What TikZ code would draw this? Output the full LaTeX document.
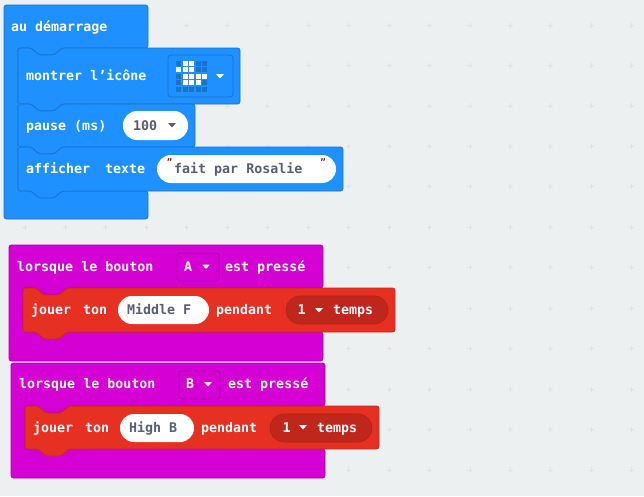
\documentclass[tikz,border=0pt]{standalone}
\usepackage{fontspec}
\setmainfont{DejaVu Sans Mono}[BoldFont={DejaVu Sans Mono Bold}]
\usetikzlibrary{positioning}
\definecolor{fondgris}{HTML}{ECF0F1}
\definecolor{grille}{HTML}{DDE3E5}
\definecolor{bleu}{HTML}{1E90FF}
\definecolor{bleufonce}{HTML}{1873CC}
\definecolor{mauve}{HTML}{D400D4}
\definecolor{mauvefonce}{HTML}{AA00AA}
\definecolor{rouge}{HTML}{E63022}
\definecolor{rougefonce}{HTML}{C0271C}
\definecolor{ardoise}{HTML}{575E75}
\tikzset{
	x=1pt, y=-1pt,
	etiquette/.style={text=white, font=\bfseries\fontsize{13.3}{16}\selectfont, inner sep=0pt, anchor=base west},
	valeur/.style={text=ardoise, font=\bfseries\fontsize{13.3}{16}\selectfont, inner sep=0pt, anchor=base west},
	guillemet/.style={text=red!70!black, font=\bfseries\fontsize{9}{10}\selectfont, inner sep=0pt},
	champ/.style={fill=white, rounded corners=13.9pt},
	pilule/.style={fill=rougefonce, draw=rougefonce!90!black, line width=0.6pt, rounded corners=13.9pt},
	liste/.style={fill=mauve, draw=mauvefonce, line width=0.8pt, rounded corners=3pt},
	plus/.style={grille, line width=0.8pt}
}
% bloc empile : gauche, haut, droite, bas, couleur, contour
\newcommand{\bloc}[6]{
	\draw[fill=#5, draw=#6, line width=0.8pt, rounded corners=2.5pt]
		(#1,#2) -- (#1+13,#2) -- (#1+21,#2+7) -- (#1+36,#2+7) -- (#1+44,#2)
		-- (#3,#2) -- (#3,#4) -- (#1+44,#4) -- (#1+36,#4+7) -- (#1+21,#4+7)
		-- (#1+13,#4) -- (#1,#4) -- cycle;
}
% chapeau avec bras : gauche, haut, droite, bas, haut du bras, bas du bras, couleur, contour
\newcommand{\chapeau}[8]{
	\draw[fill=#7, draw=#8, line width=0.8pt, rounded corners=2.5pt]
		(#1,#2) -- (#3,#2) -- (#3,#5) -- (#1+58,#5) -- (#1+50,#5+7) -- (#1+35,#5+7)
		-- (#1+27,#5) -- (#1+14,#5) -- (#1+14,#6) -- (#3,#6)
		-- (#3,#4) -- (#1,#4) -- cycle;
}
\newcommand{\fleche}[3]{\fill[#3, rounded corners=0.5pt] (#1-4,#2-2) -- (#1+4,#2-2) -- (#1,#2+2.5) -- cycle;}
\begin{document}
\begin{tikzpicture}
	\useasboundingbox (0,0) rectangle (644,496);
	\fill[fondgris] (0,0) rectangle (644,496);
	% grille de fond
	\foreach \i in {0,...,16}
		\foreach \j in {0,...,11} {
			\pgfmathsetmacro{\px}{-15.5+40.45*\i}
			\pgfmathsetmacro{\py}{25+40.45*\j}
			\draw[plus] (\px-2.5,\py) -- (\px+2.5,\py) (\px,\py-2.5) -- (\px,\py+2.5);
		}
	% au demarrage
	\chapeau{4}{5}{148}{219}{48}{191}{bleu}{bleufonce}
	\node[etiquette] (demarrage) at (11,31) {au démarrage};
	\bloc{18}{48}{240}{104}{bleu}{bleufonce}
	\node[etiquette] (icone) at (26,80) {montrer l'icône};
	\draw[bleufonce, line width=0.8pt, rounded corners=3pt] (168,55) rectangle (233,97);
	\foreach \c/\l/\v in {0/0/0,1/0/1,2/0/1,3/0/0,4/0/0,
			0/1/1,1/1/1,2/1/1,3/1/0,4/1/0,
			0/2/0,1/2/1,2/2/1,3/2/1,4/2/1,
			0/3/0,1/3/1,2/3/1,3/3/1,4/3/0,
			0/4/0,1/4/0,2/4/0,3/4/0,4/4/0} {
		\ifnum\v=1
			\fill[white] (176+6.5*\c,60.6+6.5*\l) rectangle +(5,5);
		\else
			\fill[bleufonce] (176+6.5*\c,60.6+6.5*\l) rectangle +(5,5);
		\fi
	}
	\fleche{220}{76}{white}
	\bloc{18}{104}{195}{147}{bleu}{bleufonce}
	\node[etiquette] (pause) at (26,130.5) {pause (ms)};
	\fill[champ] (123,111) rectangle (188,140);
	\node[valeur] (cent) at (133,130.5) {100};
	\fleche{172}{125}{ardoise}
	\bloc{18}{147}{343}{191}{bleu}{bleufonce}
	\node[etiquette] (afficher) at (26,173) {afficher};
	\node[etiquette] (texte) at (105,173) {texte};
	\fill[champ] (157,155) rectangle (336,183);
	\node[valeur] (rosalie) at (174,173) {fait par Rosalie};
	\node[guillemet] (ouvrant) at (169.5,162) {"};
	\node[guillemet] (fermant) at (323,162) {"};
	% bouton A
	\chapeau{9}{245}{323}{361}{288}{332}{mauve}{mauvefonce}
	\node[etiquette] (boutona) at (17,271) {lorsque le bouton};
	\draw[liste] (177,253) rectangle (219,281);
	\node[etiquette] (a) at (184,271) {A};
	\fleche{206}{266.5}{white}
	\node[etiquette] (pressea) at (225,271) {est pressé};
	\bloc{23}{288}{395}{332}{rouge}{rouge!85!black}
	\node[etiquette] (jouera) at (31,314.5) {jouer};
	\node[etiquette] (tona) at (83,314.5) {ton};
	\fill[champ] (118,296) rectangle (209,324);
	\node[valeur] (middle) at (127,314.5) {Middle F};
	\node[etiquette] (pendanta) at (216,314.5) {pendant};
	\draw[pilule] (286,296) rectangle (388,324);
	\node[etiquette] (una) at (297.5,314.5) {1};
	\fleche{319}{310}{white}
	\node[etiquette] (tempsa) at (333,314.5) {temps};
	% bouton B
	\chapeau{11}{363}{325}{478}{406}{449}{mauve}{mauvefonce}
	\node[etiquette] (boutonb) at (19,388) {lorsque le bouton};
	\draw[liste] (179,371) rectangle (220,399);
	\node[etiquette] (b) at (186,388) {B};
	\fleche{208}{384}{white}
	\node[etiquette] (presseb) at (228,388) {est pressé};
	\bloc{25}{406}{379}{449}{rouge}{rouge!85!black}
	\node[etiquette] (jouerb) at (33,432) {jouer};
	\node[etiquette] (tonb) at (85,432) {ton};
	\fill[champ] (120,414) rectangle (194,442);
	\node[valeur] (high) at (129,432) {High B};
	\node[etiquette] (pendantb) at (201,432) {pendant};
	\draw[pilule] (270,414) rectangle (372,442);
	\node[etiquette] (unb) at (282.5,432) {1};
	\fleche{303}{427}{white}
	\node[etiquette] (tempsb) at (317,432) {temps};
\end{tikzpicture}
\end{document}
